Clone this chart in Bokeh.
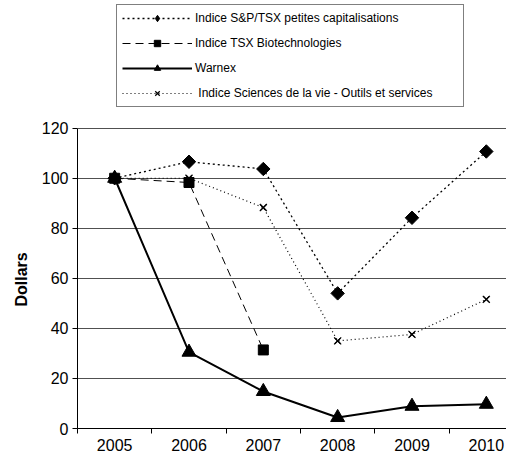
import numpy as np
from bokeh.plotting import figure
from bokeh.models import Range1d, FixedTicker, Legend, LegendItem, Title
from bokeh.embed import file_html
from bokeh.resources import INLINE

years = [2005, 2006, 2007, 2008, 2009, 2010]
sp_tsx_small = [100, 106.6, 103.7, 54, 84.2, 110.7]
tsx_biotech_years = [2005, 2006, 2007]
tsx_biotech = [100, 98.3, 31.4]
warnex = [100, 30.5, 14.8, 4.4, 8.9, 9.7]
life_sciences = [100, 100, 88.3, 35, 37.6, 51.6]
y_ticks = [0, 20, 40, 60, 80, 100, 120]

labels = [
    "Indice S&P/TSX petites capitalisations",
    "Indice TSX Biotechnologies",
    "Warnex",
    " Indice Sciences de la vie - Outils et services",
]

FONT = "Liberation Sans"

W, H = 506, 453
LEFT, BOTTOM = 77, 24
FRAME_H = H - BOTTOM          # 429
PX_PER_UNIT = (FRAME_H - 128) / 120.0
Y_TOP = FRAME_H / PX_PER_UNIT
CAT_W = 74.33

p = figure(width=W, height=H, output_backend="svg", toolbar_location=None,
           x_range=Range1d(2004.5, 2004.5 + (W - LEFT) / CAT_W),
           y_range=Range1d(0, Y_TOP),
           min_border_left=LEFT, min_border_right=0, min_border_top=0,
           min_border_bottom=BOTTOM)
p.outline_line_color = None
p.background_fill_color = "white"
p.border_fill_color = "white"

# x axis
p.xaxis.ticker = FixedTicker(ticks=years, minor_ticks=[y - 0.5 for y in years])
p.xaxis.major_tick_out = 0
p.xaxis.major_tick_in = 0
p.xaxis.minor_tick_out = 5
p.xaxis.minor_tick_in = 0
p.xaxis.minor_tick_line_color = "black"
p.xaxis.axis_line_color = "black"
p.xaxis.major_label_text_font = FONT
p.xaxis.major_label_text_font_size = "16px"
p.xaxis.major_label_text_color = "black"
p.xaxis.major_label_standoff = 5

# y axis
p.yaxis.ticker = FixedTicker(ticks=y_ticks)
p.yaxis.bounds = (0, 120)
p.yaxis.major_tick_out = 5
p.yaxis.major_tick_in = 0
p.yaxis.minor_tick_line_color = None
p.yaxis.axis_line_color = "black"
p.yaxis.major_label_text_font = FONT
p.yaxis.major_label_text_font_size = "16px"
p.yaxis.major_label_text_color = "black"
p.yaxis.major_label_standoff = 4

ytitle = Title(text="Dollars", align="left", offset=FRAME_H - 307,
               text_font=FONT, text_font_style="bold", text_font_size="16px",
               text_color="black", standoff=17)
p.add_layout(ytitle, "left")

p.xgrid.grid_line_color = None
p.ygrid.ticker = FixedTicker(ticks=y_ticks)
p.ygrid.grid_line_color = "#505050"
p.ygrid.grid_line_width = 1

# small markers used for the legend (drawn first, hidden under the plot markers)
lg1 = p.scatter(years, sp_tsx_small, marker="diamond", size=10, fill_color="black", line_color="black")
lg2 = p.scatter(tsx_biotech_years, tsx_biotech, marker="square", size=7, fill_color="black", line_color="black")
lg3 = p.scatter(years, warnex, marker="triangle", size=9, fill_color="black", line_color="black")
lg4 = p.scatter(years, life_sciences, marker="x", size=8, line_color="black", line_width=1.2)

# series
l1 = p.line(years, sp_tsx_small, line_color="black", line_width=1.3, line_dash="2 3")
m1 = p.scatter(years, sp_tsx_small, marker="square", angle=np.pi / 4, size=9.5,
               fill_color="black", line_color="black")

l2 = p.line(tsx_biotech_years, tsx_biotech, line_color="black", line_width=1, line_dash="8 5")
m2 = p.scatter(tsx_biotech_years, tsx_biotech, marker="square", size=10,
               fill_color="black", line_color="black")

l4 = p.line(years, life_sciences, line_color="black", line_width=1.2, line_dash="1 3")
m4 = p.scatter(years, life_sciences, marker="x", size=10, line_color="black", line_width=1.2)

l3 = p.line(years, warnex, line_color="black", line_width=2)
m3 = p.scatter(years, warnex, marker="triangle", size=14,
               fill_color="black", line_color="black")

legend = Legend(items=[
    LegendItem(label=labels[0], renderers=[l1, lg1]),
    LegendItem(label=labels[1], renderers=[l2, lg2]),
    LegendItem(label=labels[2], renderers=[l3, lg3]),
    LegendItem(label=labels[3], renderers=[l4, lg4]),
], location=(116 - LEFT, FRAME_H - 108))
legend.label_text_font = FONT
legend.label_text_font_size = "12px"
legend.label_text_color = "black"
legend.border_line_color = "black"
legend.border_line_width = 1
legend.background_fill_color = "white"
legend.background_fill_alpha = 1
legend.padding = 5
legend.spacing = 9
legend.glyph_width = 70
legend.glyph_height = 16
legend.label_height = 16
legend.label_width = 263
legend.label_standoff = 3
legend.margin = 0
p.add_layout(legend, "center")

open("out.html", "w").write(file_html(p, INLINE))
